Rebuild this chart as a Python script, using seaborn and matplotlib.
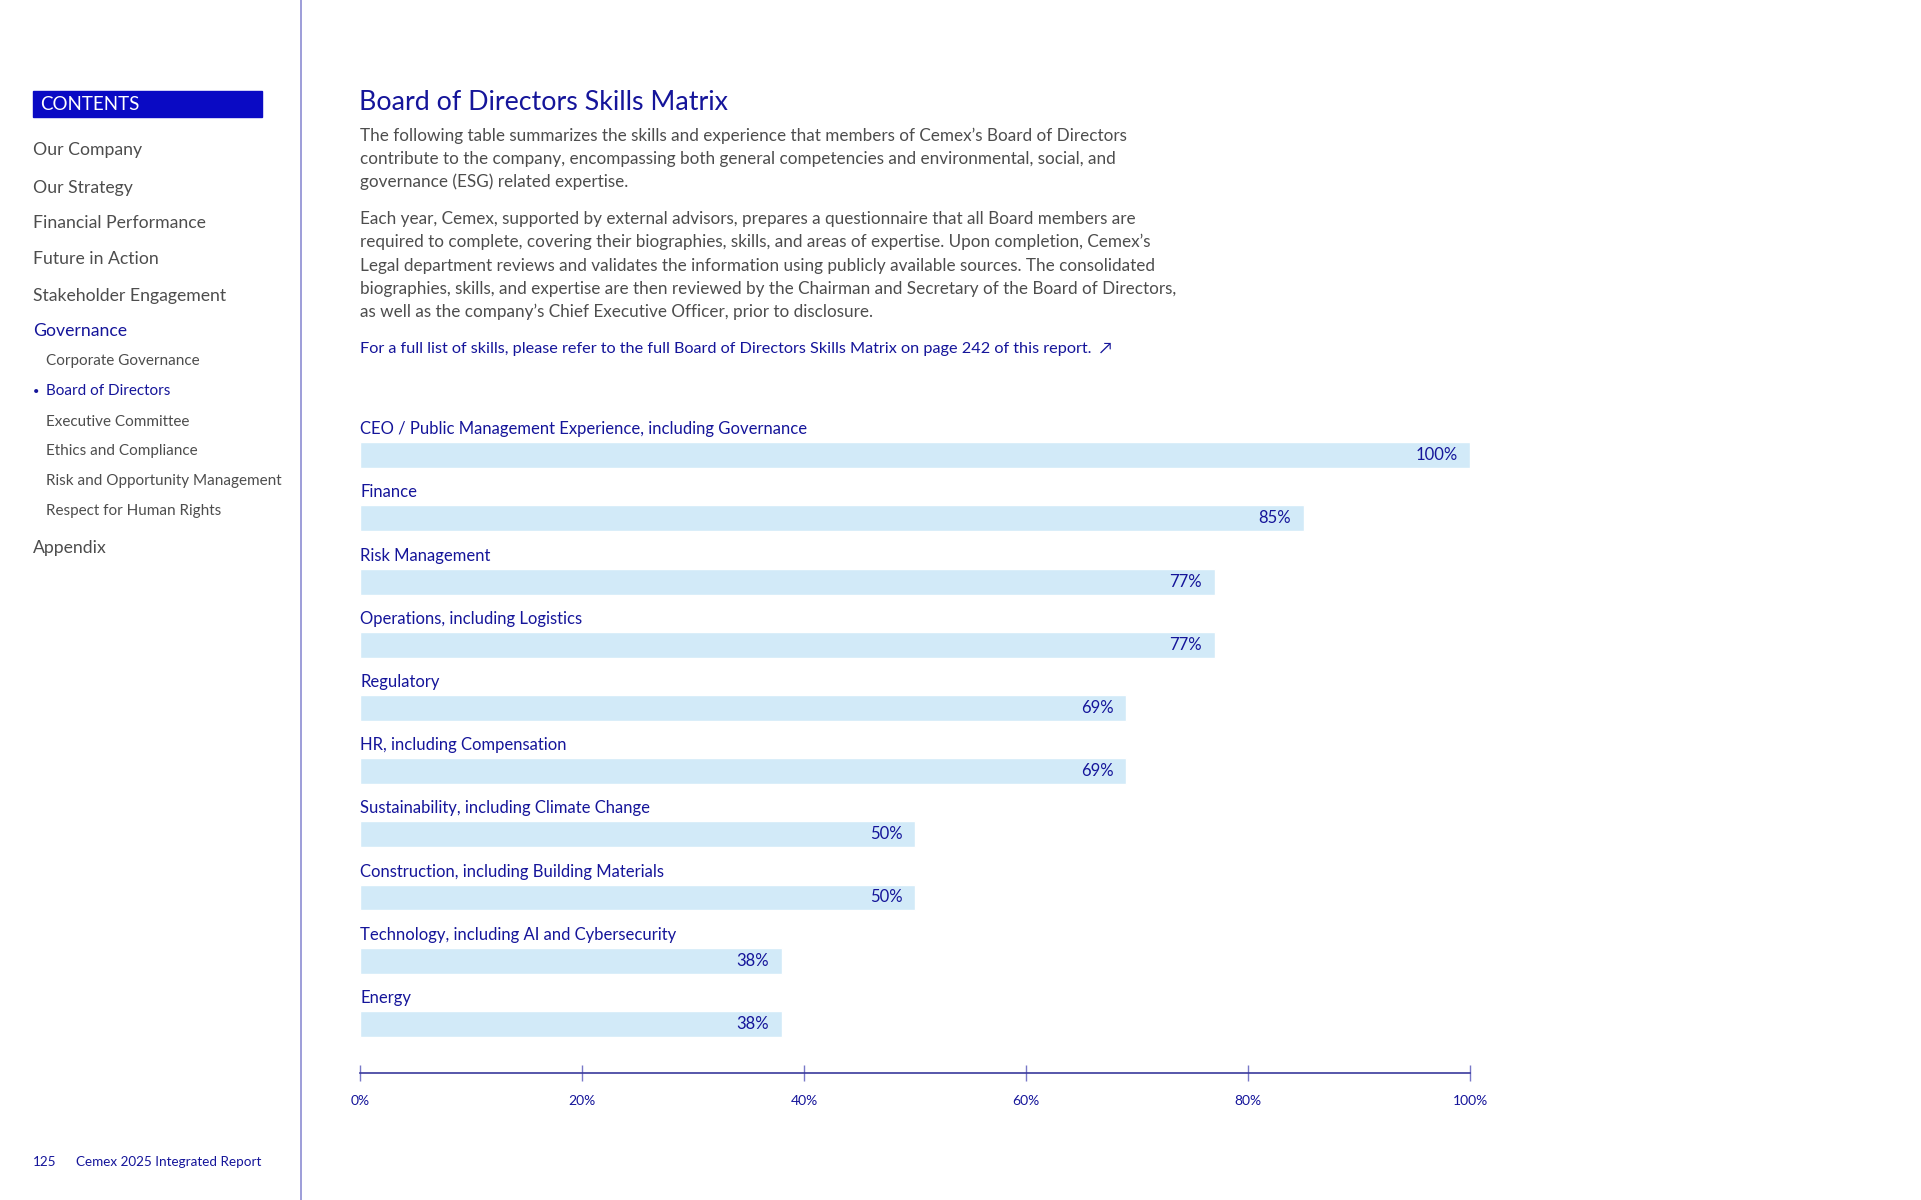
import matplotlib
matplotlib.use('Agg')
import matplotlib.pyplot as plt
from matplotlib.patches import Rectangle
from matplotlib.lines import Line2D
import seaborn as sns
import pandas as pd

# Datos de la matriz de habilidades
skills = [
    'CEO / Public Management Experience, including Governance',
    'Finance',
    'Risk Management',
    'Operations, including Logistics',
    'Regulatory',
    'HR, including Compensation',
    'Sustainability, including Climate Change',
    'Construction, including Building Materials',
    'Technology, including AI and Cybersecurity',
    'Energy',
]
shares = [100, 85, 77, 77, 69, 69, 50, 50, 38, 38]
tick_values = [0, 20, 40, 60, 80, 100]
tick_labels = ['0%', '20%', '40%', '60%', '80%', '100%']

menu_main = ['Our Company', 'Our Strategy', 'Financial Performance', 'Future in Action',
             'Stakeholder Engagement']
menu_sub = ['Corporate Governance', 'Board of Directors', 'Executive Committee',
            'Ethics and Compliance', 'Risk and Opportunity Management', 'Respect for Human Rights']

titulo = 'Board of Directors Skills Matrix'
parrafo1 = [
    'The following table summarizes the skills and experience that members of Cemex\u2019s Board of Directors',
    'contribute to the company, encompassing both general competencies and environmental, social, and',
    'governance (ESG) related expertise.',
]
parrafo2 = [
    'Each year, Cemex, supported by external advisors, prepares a questionnaire that all Board members are',
    'required to complete, covering their biographies, skills, and areas of expertise. Upon completion, Cemex\u2019s',
    'Legal department reviews and validates the information using publicly available sources. The consolidated',
    'biographies, skills, and expertise are then reviewed by the Chairman and Secretary of the Board of Directors,',
    'as well as the company\u2019s Chief Executive Officer, prior to disclosure.',
]
enlace = 'For a full list of skills, please refer to the full Board of Directors Skills Matrix on page 242 of this report.  \u2197'

NAVY = '#15159a'
GRIS = '#4d4d4d'
BARRA = '#d2eaf8'

W, H = 1921, 1200
sns.set_style('white')
plt.rcParams['font.family'] = ['Lato', 'DejaVu Sans']

fig = plt.figure(figsize=(W / 100, H / 100), dpi=100)


def fx(x):
    return x / W


def fy(y):
    return 1 - y / H


# Barra lateral
fig.add_artist(Line2D([fx(301), fx(301)], [0, 1], color='#9595d6', lw=1.3))
fig.add_artist(Rectangle((fx(33), fy(117)), fx(262) - fx(33), (117 - 91) / H,
                         color='#0a0ac4', transform=fig.transFigure))
fig.text(fx(40), fy(104.5), 'CONTENTS', color='white', fontsize=13.5, va='center')

y_menu = [150.5, 187.5, 222.5, 258.5, 295.5]
for item, y in zip(menu_main, y_menu):
    fig.text(fx(33), fy(y), item, color=GRIS, fontsize=12.7, va='center')
fig.text(fx(33), fy(330.5), 'Governance', color=NAVY, fontsize=12.7, va='center')
y_sub = [361.5, 391.5, 421.5, 451.5, 481.5, 511.5]
for item, y in zip(menu_sub, y_sub):
    col = NAVY if item == 'Board of Directors' else GRIS
    fig.text(fx(46), fy(y), item, color=col, fontsize=11, va='center')
fig.text(fx(33), fy(391.5), '\u2022', color=NAVY, fontsize=8, va='center')
fig.text(fx(33), fy(547.5), 'Appendix', color=GRIS, fontsize=12.7, va='center')

fig.text(fx(33), fy(1162.5), '125', color=NAVY, fontsize=9.7, va='center')
fig.text(fx(76), fy(1162.5), 'Cemex 2025 Integrated Report', color=NAVY, fontsize=9.7, va='center')

# Titulo y textos
fig.text(fx(359), fy(102.5), titulo, color=NAVY, fontsize=19.3, va='center')
for linea, y in zip(parrafo1, [136, 159, 182]):
    fig.text(fx(360), fy(y), linea, color=GRIS, fontsize=12.35, va='center')
for linea, y in zip(parrafo2, [219, 242, 266, 289, 312]):
    fig.text(fx(360), fy(y), linea, color=GRIS, fontsize=12.35, va='center')
fig.text(fx(360), fy(349), enlace, color=NAVY, fontsize=11.7, va='center')

# Grafico de barras
ax = fig.add_axes([fx(360), 1 - 1106 / H, (1470 - 360) / W, 714 / H])
df = pd.DataFrame({'skill': skills, 'share': shares})
sns.barplot(data=df, x='share', y='skill', orient='h', color=BARRA, saturation=1,
            width=0.41, ax=ax)
ax.set_ylim(10.3, -1)
ax.set_xlim(0, 100)
ax.set_ylabel('')
ax.set_xlabel('')
ax.tick_params(axis='y', left=False, labelleft=False)

for i, (s, v) in enumerate(zip(skills, shares)):
    ax.text(0, i - 0.41, s, color=NAVY, fontsize=12, va='center', ha='left')
    ax.annotate(f'{v}%', xy=(v, i), xytext=(-9, 0), textcoords='offset points',
                color=NAVY, fontsize=12, va='center', ha='right')

for lado in ['left', 'top', 'right']:
    ax.spines[lado].set_visible(False)
ax.spines['bottom'].set_position(('data', 9.78))
ax.spines['bottom'].set_color('#3a3a9c')
ax.spines['bottom'].set_linewidth(1.2)
ax.set_xticks(tick_values)
ax.set_xticklabels(tick_labels)
ax.tick_params(axis='x', bottom=True, direction='inout', length=11, width=1,
               color='#7878c8', labelcolor=NAVY, labelsize=10, pad=10.5)

fig.savefig('out.png', dpi=100)
